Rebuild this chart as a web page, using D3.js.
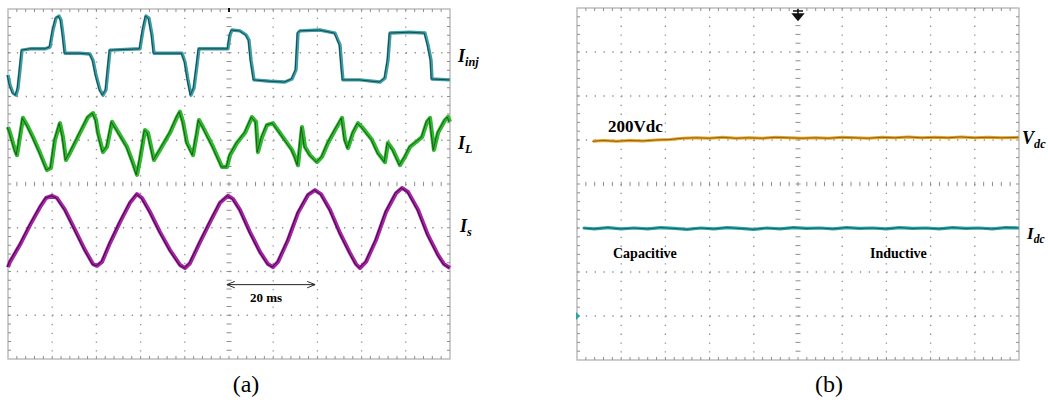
<!DOCTYPE html>
<html><head><meta charset="utf-8">
<script src="https://cdn.jsdelivr.net/npm/d3@7"></script>
<style>body{margin:0;background:#fff}svg{display:block}</style>
</head><body><svg id="c" width="1048" height="403"></svg>
<script>
// ---------- DATA (time in ms for panel a, in divisions for panel b; values in divisions) ----------
const iinj = [[0,2.49],[0.45,2.26],[1.13,2.08],[1.81,2.03],[2.26,2.19],[2.71,2.61],[3.17,3.06],[4.98,3.09],[8.37,3.09],[9.5,3.13],[10.18,3.52],[10.86,3.79],[11.54,3.84],[11.99,3.75],[12.44,3.41],[12.9,2.99],[16.29,2.99],[18.55,2.97],[19.23,2.83],[19.91,2.49],[20.81,2.15],[21.49,2.03],[22.17,2.15],[22.62,2.61],[23.08,3.06],[29.86,3.09],[30.54,3.52],[31.22,3.84],[31.9,3.79],[32.58,3.41],[33.03,2.99],[39.37,2.99],[40.05,2.79],[40.72,2.38],[41.4,2.03],[42.08,2.19],[42.76,2.72],[43.21,3.09],[49.77,3.09],[50.23,3.41],[50.68,3.52],[52.49,3.5],[53.85,3.41],[54.52,3.29],[54.98,2.83],[55.66,2.38],[59.28,2.35],[62.67,2.33],[64.25,2.4],[65.16,2.61],[65.61,3.45],[66.06,3.5],[70.59,3.52],[73.98,3.45],[75.11,3.18],[75.57,2.61],[75.79,2.38],[79.64,2.38],[84.16,2.33],[85.29,2.42],[85.97,2.83],[86.43,3.45],[90.95,3.47],[94.34,3.45],[95.02,3.18],[95.7,2.83],[95.93,2.4],[100,2.38]];
const iload = [[0,1.3],[0.45,1.17],[1.58,0.78],[2.04,0.66],[2.49,0.94],[3.39,1.51],[4.3,1.35],[5.66,1.07],[7.24,0.71],[8.82,0.32],[9.73,0.37],[10.63,1.01],[11.76,1.39],[12.44,1.07],[13.12,0.55],[14.03,0.71],[16.29,1.17],[18.1,1.53],[19.23,1.62],[19.91,1.46],[20.36,1.17],[21.49,0.73],[22.4,0.85],[23.53,1.42],[24.66,1.23],[26.92,0.85],[28.28,0.48],[29.19,0.21],[29.86,0.55],[31.0,1.23],[31.67,1.17],[33.03,0.55],[34.39,0.78],[36.65,1.17],[38.24,1.53],[38.91,1.65],[39.59,1.42],[40.5,0.94],[41.86,0.66],[42.76,1.17],[43.21,1.46],[44.12,1.3],[46.38,0.85],[48.42,0.39],[49.55,0.39],[50.23,0.66],[51.81,0.94],[53.62,1.17],[55.2,1.53],[56.11,1.42],[56.56,0.73],[57.47,1.07],[58.6,1.35],[59.95,1.39],[61.09,1.23],[63.12,0.94],[64.25,0.78],[64.93,0.62],[65.61,0.43],[66.52,1.3],[67.19,0.85],[68.33,0.66],[69.91,0.5],[71.04,0.62],[72.4,0.94],[73.98,1.23],[75.57,1.51],[76.24,1.01],[76.92,0.82],[78.05,1.17],[79.19,1.39],[80.09,1.3],[82.35,1.01],[83.71,0.71],[85.29,0.5],[85.97,0.94],[87.1,0.78],[88.69,0.43],[89.82,0.62],[90.95,0.85],[92.08,0.94],[93.67,1.07],[94.8,1.42],[95.48,1.51],[96.38,0.78],[97.29,1.17],[98.87,1.46],[99.55,1.53],[100,1.42]];
const isrc = [[0,-1.9],[0.45,-1.78],[2.71,-1.39],[4.98,-0.94],[7.24,-0.53],[8.6,-0.32],[9.95,-0.27],[11.09,-0.32],[12.9,-0.59],[15.16,-1.05],[17.42,-1.51],[19.23,-1.83],[20.14,-1.87],[21.27,-1.78],[23.08,-1.35],[25.34,-0.87],[27.6,-0.43],[29.19,-0.23],[30.32,-0.32],[32.13,-0.64],[34.39,-1.1],[36.65,-1.51],[38.91,-1.85],[40.05,-1.92],[41.18,-1.81],[43.44,-1.33],[45.7,-0.87],[47.96,-0.43],[49.77,-0.27],[50.9,-0.34],[52.49,-0.59],[54.75,-1.1],[57.01,-1.55],[58.82,-1.83],[59.95,-1.9],[61.09,-1.78],[63.35,-1.28],[65.61,-0.66],[67.87,-0.25],[69.46,-0.14],[70.81,-0.23],[72.85,-0.59],[75.11,-1.12],[77.38,-1.58],[78.73,-1.83],[79.64,-1.92],[81.0,-1.78],[83.26,-1.28],[85.52,-0.64],[87.78,-0.21],[89.14,-0.09],[90.5,-0.18],[92.76,-0.59],[95.02,-1.17],[97.29,-1.62],[98.64,-1.83],[100,-1.92]];
const vdc = [[0.36,0.97],[0.6,0.99],[0.9,0.97],[1.2,0.99],[1.5,0.98],[1.8,1.0],[2.1,1.01],[2.4,1.04],[2.7,1.05],[3.0,1.04],[3.3,1.06],[3.6,1.04],[3.9,1.05],[4.2,1.04],[4.5,1.06],[4.8,1.05],[5.1,1.04],[5.4,1.05],[5.7,1.04],[6.0,1.06],[6.3,1.05],[6.6,1.04],[6.9,1.06],[7.2,1.05],[7.5,1.07],[7.8,1.05],[8.1,1.06],[8.4,1.05],[8.7,1.07],[9.0,1.05],[9.3,1.06],[9.6,1.05],[10,1.06]];
const idc = [[0.14,-1.0],[0.4,-1.02],[0.7,-0.99],[1.0,-1.02],[1.3,-1.0],[1.6,-1.02],[1.9,-0.99],[2.2,-1.01],[2.5,-1.03],[2.8,-1.0],[3.1,-1.02],[3.4,-0.99],[3.7,-1.01],[4.0,-1.03],[4.3,-1.0],[4.6,-1.02],[4.9,-0.99],[5.2,-1.01],[5.5,-1.0],[5.8,-1.02],[6.1,-0.99],[6.4,-1.01],[6.7,-1.0],[7.0,-1.02],[7.3,-0.99],[7.6,-1.01],[7.9,-1.0],[8.2,-1.02],[8.5,-0.99],[8.8,-1.01],[9.1,-1.0],[9.4,-1.02],[9.7,-0.99],[10,-1.0]];
const labelsA = [["I","inj",2.8],["I","L",0.8],["I","s",-1.1]];
const labelsB = [["V","dc",0.9],["I","dc",-1.25]];
const captions = ["(a)","(b)"];

const svg = d3.select("#c");
const FONT = "'Liberation Serif','Times New Roman',serif";

function scope(x0, x1, y0, y1, xDomain) {
  const g = svg.append("g");
  const xd = d3.scaleLinear().domain([0,10]).range([x0,x1]);
  const yd = d3.scaleLinear().domain([-4,4]).range([y1,y0]);
  const xs = d3.scaleLinear().domain(xDomain).range([x0,x1]);
  const dw = (x1-x0)/10, dh = (y1-y0)/8;
  const gc = "#8f8f8f";
  g.append("rect").attr("x",x0).attr("y",y0).attr("width",x1-x0).attr("height",y1-y0)
    .attr("fill","#fff").attr("stroke","#b3b3b3").attr("stroke-width",1.3);
  d3.range(1,10).filter(i=>i!==5).forEach(i=>{
    g.append("line").attr("x1",xd(i)).attr("x2",xd(i)).attr("y1",y0).attr("y2",y1)
      .attr("stroke",gc).attr("stroke-width",1.3).attr("stroke-dasharray",`1.3 ${dh/5-1.3}`);
  });
  d3.range(1,8).filter(j=>j!==4).forEach(j=>{
    g.append("line").attr("y1",yd(j-4)).attr("y2",yd(j-4)).attr("x1",x0).attr("x2",x1)
      .attr("stroke",gc).attr("stroke-width",1.3).attr("stroke-dasharray",`1.3 ${dw/5-1.3}`);
  });
  const tx = d3.range(1,50).map(k=>k/5), ty = d3.range(1,40).map(k=>k/5-4);
  g.selectAll(null).data(tx).join("line").attr("x1",d=>xd(d)).attr("x2",d=>xd(d))
    .attr("y1",yd(0)-2.2).attr("y2",yd(0)+2.2).attr("stroke",gc).attr("stroke-width",1);
  g.selectAll(null).data(ty).join("line").attr("y1",d=>yd(d)).attr("y2",d=>yd(d))
    .attr("x1",xd(5)-2.5).attr("x2",xd(5)+2.5).attr("stroke",gc).attr("stroke-width",1);
  g.selectAll(null).data(tx).join("line").attr("x1",d=>xd(d)).attr("x2",d=>xd(d))
    .attr("y1",y0).attr("y2",y0+3).attr("stroke",gc);
  g.selectAll(null).data(tx).join("line").attr("x1",d=>xd(d)).attr("x2",d=>xd(d))
    .attr("y1",y1-3).attr("y2",y1).attr("stroke",gc);
  g.selectAll(null).data(ty).join("line").attr("y1",d=>yd(d)).attr("y2",d=>yd(d))
    .attr("x1",x0).attr("x2",x0+3).attr("stroke",gc);
  g.selectAll(null).data(ty).join("line").attr("y1",d=>yd(d)).attr("y2",d=>yd(d))
    .attr("x1",x1-3).attr("x2",x1).attr("stroke",gc);
  return {g, xs, yd, xd};
}

function trace(p, data, color, dark, w) {
  const line = d3.line().x(d=>p.xs(d[0])).y(d=>p.yd(d[1]));
  p.g.append("path").attr("d",line(data)).attr("fill","none").attr("stroke",color)
    .attr("stroke-width",w).attr("stroke-linejoin","round");
  p.g.append("path").attr("d",line(data)).attr("fill","none").attr("stroke",dark)
    .attr("stroke-width",1).attr("stroke-opacity",0.9).attr("transform","translate(-0.8,0)");
}

function label(p, xPix, item, size) {
  const t = svg.append("text").attr("x",xPix).attr("y",p.yd(item[2]))
    .attr("font-family",FONT).attr("font-weight","bold").attr("font-style","italic")
    .attr("font-size",size).attr("fill","#000");
  t.append("tspan").text(item[0]);
  t.append("tspan").attr("font-size",size*0.68).attr("dy",4).text(item[1]);
}

// Panel (a)
const A = scope(8, 450, 9, 359, [0,100]);
trace(A, iinj, "#3a9ea6", "#163f44", 3.4);
trace(A, iload, "#2fb82f", "#174f17", 4.2);
trace(A, isrc, "#a524a5", "#2e062e", 4);
svg.append("rect").attr("x",228).attr("y",8).attr("width",2).attr("height",4).attr("fill","#111");
label(A, 458, labelsA[0], 18);
label(A, 458, labelsA[1], 18);
label(A, 460, labelsA[2], 18);
svg.append("defs").html(
  '<marker id="ah" viewBox="0 0 10 10" refX="10" refY="5" markerWidth="8" markerHeight="8" orient="auto-start-reverse" markerUnits="userSpaceOnUse"><path d="M0,1 L10,5 L0,9" fill="none" stroke="#222" stroke-width="1.2"/></marker>');
svg.append("line").attr("x1",A.xs(49.5)).attr("x2",A.xs(69.5)).attr("y1",A.yd(-2.3)).attr("y2",A.yd(-2.3))
  .attr("stroke","#222").attr("stroke-width",1).attr("marker-start","url(#ah)").attr("marker-end","url(#ah)");
svg.append("text").attr("x",250).attr("y",A.yd(-2.70)).attr("font-family",FONT).attr("font-weight","bold")
  .attr("font-size",13).text("20 ms");

// Panel (b)
const B = scope(577, 1019, 8, 360, [0,10]);
trace(B, vdc, "#e6a11e", "#8a5a10", 3);
trace(B, idc, "#2aa5a6", "#145a5a", 3.2);
svg.append("path").attr("d","M793,11 L803,11 M798,9 L798,15 M793,14 L803,14 L798,20 Z")
  .attr("fill","#111").attr("stroke","#111").attr("stroke-width",1.6);
svg.append("path").attr("d","M576,312 L580,316 L576,320 Z").attr("fill","#2aa5a6");
svg.append("text").attr("x",608).attr("y",B.yd(1.18)).attr("font-family",FONT).attr("font-weight","bold")
  .attr("font-size",17).text("200Vdc");
svg.append("text").attr("x",613).attr("y",B.yd(-1.68)).attr("font-family",FONT).attr("font-weight","bold")
  .attr("font-size",14).text("Capacitive");
svg.append("text").attr("x",870).attr("y",B.yd(-1.68)).attr("font-family",FONT).attr("font-weight","bold")
  .attr("font-size",14).text("Inductive");
label(B, 1022, labelsB[0], 18);
label(B, 1027, labelsB[1], 17);

svg.append("text").attr("x",246).attr("y",392).attr("text-anchor","middle").attr("font-family",FONT)
  .attr("font-size",24).text(captions[0]);
svg.append("text").attr("x",829).attr("y",392).attr("text-anchor","middle").attr("font-family",FONT)
  .attr("font-size",24).text(captions[1]);
</script></body></html>
